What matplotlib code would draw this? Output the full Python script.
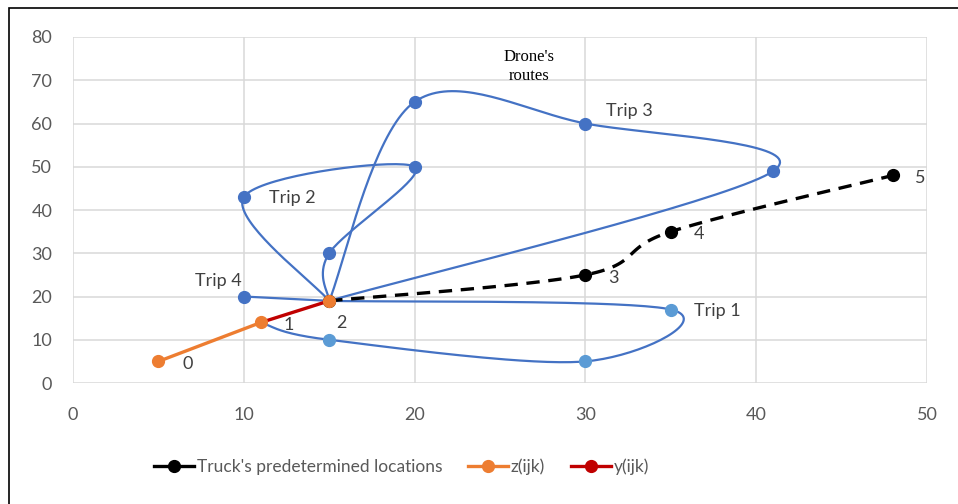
import numpy as np
import matplotlib
matplotlib.use("Agg")
import matplotlib.pyplot as plt
from matplotlib.lines import Line2D
from matplotlib.patches import Rectangle

# Truck stops (2 -> 5)
truck_x = [15, 30, 35, 48]
truck_y = [19, 25, 35, 48]
truck_labels = ["2", "3", "4", "5"]

# z(ijk) and y(ijk) legs
z_x = [5, 11]
z_y = [5, 14]
z_labels = ["0", "1"]
y_x = [11, 15]
y_y = [14, 19]

# Drone trips
trip1_x = [15, 35, 30, 15, 11]
trip1_y = [19, 17, 5, 10, 14]
trip2_x = [15, 10, 20, 15, 15]
trip2_y = [19, 43, 50, 30, 19]
trip3_x = [15, 20, 30, 41, 15]
trip3_y = [19, 65, 60, 49, 19]
trip4_x = [10, 15]
trip4_y = [20, 19]

x_ticks = [0, 10, 20, 30, 40, 50]
y_ticks = [0, 10, 20, 30, 40, 50, 60, 70, 80]

BLUE = "#4472C4"
LBLUE = "#5B9BD5"
ORANGE = "#ED7D31"
RED = "#C00000"
TXT = "#595959"

plt.rcParams['font.family'] = ['Lato', 'DejaVu Sans']


def smooth(xs, ys, n=40):
    # Catmull-Rom style smoothing like Excel's smoothed lines
    p = np.column_stack([xs, ys]).astype(float)
    if len(p) < 3:
        return p[:, 0], p[:, 1]
    ext = np.vstack([p[0], p, p[-1]])
    out = []
    t = np.linspace(0, 1, n)[:, None]
    for i in range(1, len(ext) - 2):
        p0, p1, p2, p3 = ext[i - 1], ext[i], ext[i + 1], ext[i + 2]
        c1 = p1 + (p2 - p0) / 6
        c2 = p2 - (p3 - p1) / 6
        seg = ((1 - t) ** 3) * p1 + 3 * ((1 - t) ** 2) * t * c1 + 3 * (1 - t) * t ** 2 * c2 + t ** 3 * p2
        out.append(seg)
    out = np.vstack(out)
    return out[:, 0], out[:, 1]


fig = plt.figure(figsize=(9.58, 5.04), dpi=100)
ax = fig.add_axes([0.0762, 0.240, 0.8914, 0.6866])

# frame around the chart
fig.patches.append(Rectangle((9 / 958, -0.1), 1.2, 1 - 8 / 504 + 0.1, transform=fig.transFigure,
                             fill=False, edgecolor="black", linewidth=1.2))

# drone routes
for xs, ys in [(trip1_x, trip1_y), (trip2_x, trip2_y), (trip3_x, trip3_y), (trip4_x, trip4_y)]:
    sx, sy = smooth(xs, ys)
    ax.plot(sx, sy, color=BLUE, lw=1.6, zorder=3)
ax.plot(trip1_x[1:4], trip1_y[1:4], "o", color=LBLUE, ms=8.5, zorder=4)
ax.plot(trip2_x[1:4], trip2_y[1:4], "o", color=BLUE, ms=8.5, zorder=4)
ax.plot(trip3_x[1:4], trip3_y[1:4], "o", color=BLUE, ms=8.5, zorder=4)
ax.plot(trip4_x[:1], trip4_y[:1], "o", color=BLUE, ms=8.5, zorder=4)

# truck
sx, sy = smooth(truck_x, truck_y)
ax.plot(sx, sy, color="black", lw=2.4, dashes=(4, 2.6), zorder=5)
ax.plot(truck_x, truck_y, "o", color="black", ms=8.5, zorder=5)

# z and y legs
ax.plot(y_x, y_y, color=RED, lw=2.4, zorder=6)
ax.plot(z_x, z_y, color=ORANGE, lw=2.4, marker="o", ms=8.5, zorder=7)
ax.plot(y_x[-1:], y_y[-1:], "o", color=ORANGE, ms=8.5, zorder=7)

# point labels
lab_style = dict(textcoords="offset points", fontsize=13, color="#404040", va="center", ha="center")
ax.annotate(z_labels[0], (z_x[0], z_y[0]), xytext=(21, -2), **lab_style)
ax.annotate(z_labels[1], (z_x[1], z_y[1]), xytext=(20, -2), **lab_style)
ax.annotate(truck_labels[0], (truck_x[0], truck_y[0]), xytext=(9, -16), **lab_style)
for i in range(1, 4):
    ax.annotate(truck_labels[i], (truck_x[i], truck_y[i]), xytext=(20, -2), **lab_style)

trip_style = dict(textcoords="offset points", fontsize=13, color="#404040", va="center")
ax.annotate("Trip 1", (trip1_x[1], trip1_y[1]), xytext=(17, -1), ha="left", **trip_style)
ax.annotate("Trip 2", (trip2_x[1], trip2_y[1]), xytext=(18, -1), ha="left", **trip_style)
ax.annotate("Trip 3", (trip3_x[2], trip3_y[2]), xytext=(15, 9), ha="left", **trip_style)
ax.annotate("Trip 4", (trip4_x[0], trip4_y[0]), xytext=(-18, 11), ha="center", **trip_style)

ax.text(26.7, 73.2, "Drone's\nroutes", fontsize=12, family="Liberation Serif", ha="center",
        va="center", linespacing=1.3, color="black", zorder=8)

ax.set_xlim(0, 50)
ax.set_ylim(0, 80)
ax.set_xticks(x_ticks)
ax.set_yticks(y_ticks)
ax.grid(True, color="#D9D9D9", lw=1.1)
ax.set_axisbelow(True)
for s in ax.spines.values():
    s.set_visible(False)
ax.tick_params(length=0, labelsize=13, labelcolor=TXT)
ax.tick_params(axis="y", pad=15)
ax.tick_params(axis="x", pad=17)

handles = [
    Line2D([], [], color="black", lw=2.4, marker="o", ms=8.5),
    Line2D([], [], color=ORANGE, lw=2.4, marker="o", ms=8.5),
    Line2D([], [], color=RED, lw=2.4, marker="o", ms=8.5),
]
fig.legend(handles, ["Truck's predetermined locations", "z(ijk)", "y(ijk)"], loc="center",
           bbox_to_anchor=(0.419, 0.073), ncol=3, frameon=False, fontsize=12.5, labelcolor=TXT,
           handlelength=2.3, handletextpad=0.15, columnspacing=1.5)

fig.savefig("out.png", dpi=100)
